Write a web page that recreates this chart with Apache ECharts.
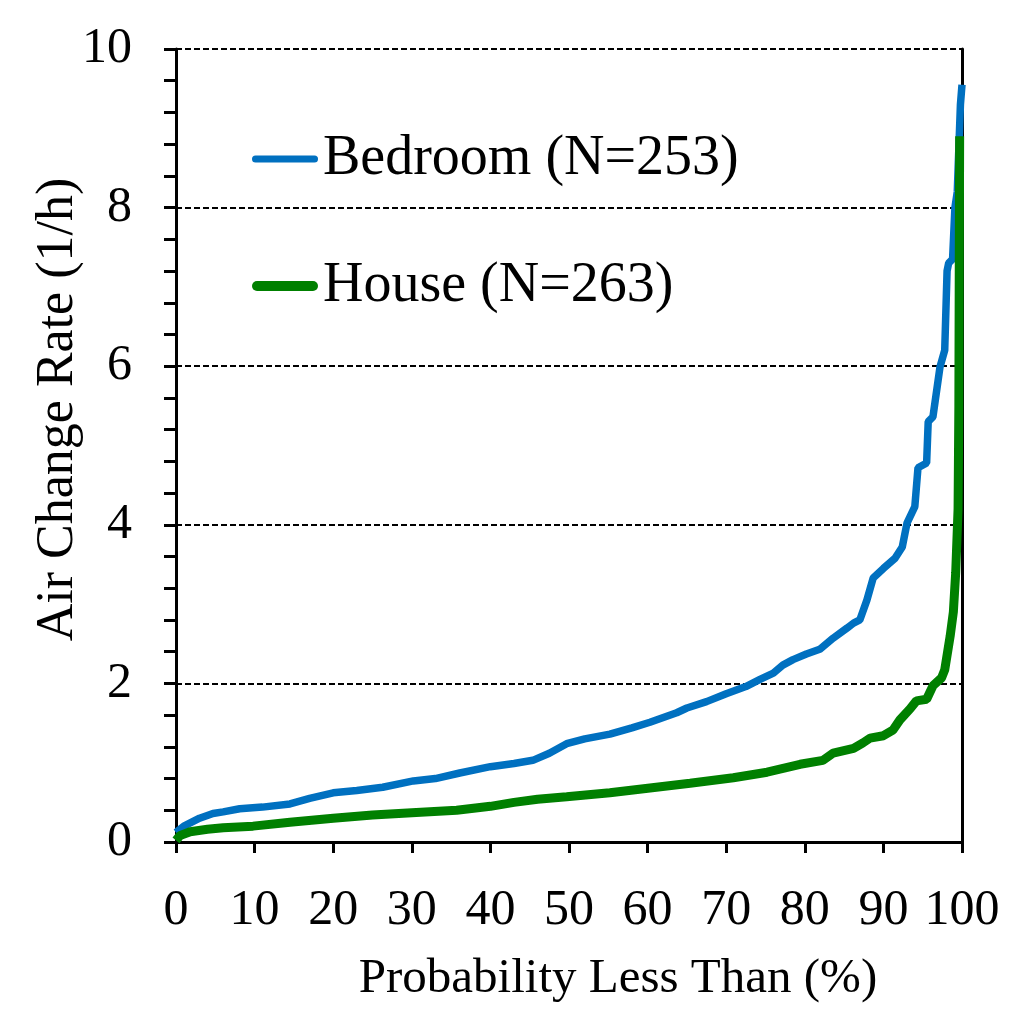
<!DOCTYPE html>
<html>
<head>
<meta charset="utf-8">
<script src="https://cdn.jsdelivr.net/npm/echarts@6/dist/echarts.min.js"></script>
<style>html,body{margin:0;padding:0;background:#fff;}#c{width:1024px;height:1024px;}</style>
</head>
<body>
<div id="c"></div>
<script>
const xTicks = [0,10,20,30,40,50,60,70,80,90,100];
const yTicks = [0,2,4,6,8,10];
const bedroomName = 'Bedroom (N=253)';
const houseName = 'House (N=263)';
const bedroomP = [0,1,2,3,4.7,6,8.1,11,14.5,17,20,23,26.3,30.2,33,36.1,40,43,45.4,47.5,49.7,52,55.2,58,60.3,63.7,65,67.5,70,72.5,74.3,76,77.2,78.5,80.2,81.9,83.6,85.4,86.2,87,87.9,88.7,90,91.5,92.4,93.0,94.0,94.4,95.5,95.7,96.3,97.2,97.8,98.1,98.3,98.8,99.1,99.4,99.8,100];
const bedroomACH = [0.12,0.2,0.25,0.3,0.36,0.38,0.42,0.44,0.48,0.55,0.62,0.65,0.69,0.77,0.8,0.87,0.95,0.99,1.03,1.12,1.24,1.3,1.36,1.44,1.51,1.63,1.69,1.77,1.87,1.96,2.05,2.13,2.23,2.3,2.37,2.43,2.57,2.7,2.76,2.8,3.05,3.33,3.45,3.58,3.72,4.02,4.23,4.72,4.78,5.3,5.36,5.99,6.2,7.2,7.3,7.35,8.0,8.2,9.3,9.55];
const houseP = [0,0.5,1.8,4,6,9.8,14.5,20,25,30,35.7,40,43,46,49.7,55.2,60.3,65.4,70.9,75.2,79.4,82.3,83.6,86.2,87.4,88.3,90,91.2,92.1,93.4,94.2,95.5,96.3,97.4,97.8,98.5,98.9,99.2,99.5,99.6,99.7];
const houseACH = [0.02,0.08,0.13,0.16,0.18,0.2,0.25,0.3,0.34,0.37,0.4,0.45,0.5,0.54,0.57,0.62,0.68,0.74,0.81,0.88,0.98,1.03,1.12,1.18,1.25,1.31,1.34,1.41,1.54,1.68,1.78,1.8,1.97,2.07,2.17,2.6,2.9,3.4,4.2,5.5,8.9];

const zip = (a,b) => a.map((v,i)=>[v,b[i]]);
const font = 'Liberation Serif';
const pill = (w,h) => { const r = h/2; return 'path://M'+r+',0H'+(w-r)+'A'+r+','+r+' 0 0 1 '+(w-r)+','+h+'H'+r+'A'+r+','+r+' 0 0 1 '+r+',0Z'; };
const chart = echarts.init(document.getElementById('c'));
chart.setOption({
  animation: false,
  backgroundColor: '#fff',
  grid: {left: 176, right: 62, top: 49, bottom: 182},
  legend: {
    orient: 'vertical', left: 247, top: 126,
    itemWidth: 66, itemHeight: 14, itemGap: 71, symbolKeepAspect: true,
    textStyle: {fontFamily: font, fontSize: 56, color: '#000', lineHeight: 56},
    data: [
      {name: bedroomName, icon: pill(66,7), itemStyle: {color: '#0070C0'}},
      {name: houseName, icon: pill(66,10), itemStyle: {color: '#008000'}}
    ]
  },
  xAxis: {
    type: 'value', min: 0, max: 100, interval: 10,
    name: 'Probability Less Than (%)', nameLocation: 'middle', nameGap: 113,
    nameMoveOverlap: false,
    nameTextStyle: {fontFamily: font, fontSize: 49, color: '#000', padding: [0,0,0,98]},
    axisLine: {show: true, onZero: false, lineStyle: {color: '#000', width: 3}},
    axisTick: {show: true, inside: false, length: 11, lineStyle: {color: '#000', width: 3}},
    axisLabel: {fontFamily: font, fontSize: 50, color: '#000', margin: 44,
      formatter: v => xTicks.includes(v) ? String(v) : ''},
    splitLine: {show: false}
  },
  yAxis: [{
    type: 'value', min: 0, max: 10, interval: 2,
    name: 'Air Change Rate (1/h)', nameLocation: 'middle', nameGap: 92,
    nameMoveOverlap: false,
    nameTextStyle: {fontFamily: font, fontSize: 52, color: '#000', padding: [0,0,0,72]},
    axisLine: {show: true, lineStyle: {color: '#000', width: 3}},
    axisTick: {show: true, inside: false, length: 12, lineStyle: {color: '#000', width: 3}},
    minorTick: {show: true, splitNumber: 5, length: 12, lineStyle: {color: '#000', width: 3}},
    axisLabel: {fontFamily: font, fontSize: 50, color: '#000', margin: 44,
      formatter: v => yTicks.includes(v) ? String(v) : ''},
    splitLine: {show: true, lineStyle: {color: '#000', width: 2, type: [6,3]}}
  }, {
    type: 'value', min: 0, max: 10, interval: 2, position: 'right',
    axisLine: {show: true, lineStyle: {color: '#000', width: 3}},
    axisTick: {show: false}, axisLabel: {show: false}, splitLine: {show: false}
  }],
  series: [{
    name: bedroomName, type: 'line', data: zip(bedroomP, bedroomACH),
    showSymbol: false, symbol: 'none', smooth: false,
    lineStyle: {color: '#0070C0', width: 7.5}, itemStyle: {color: '#0070C0'}, z: 3
  }, {
    name: houseName, type: 'line', data: zip(houseP, houseACH),
    showSymbol: false, symbol: 'none', smooth: false,
    lineStyle: {color: '#008000', width: 9}, itemStyle: {color: '#008000'}, z: 4
  }]
});
</script>
</body>
</html>
